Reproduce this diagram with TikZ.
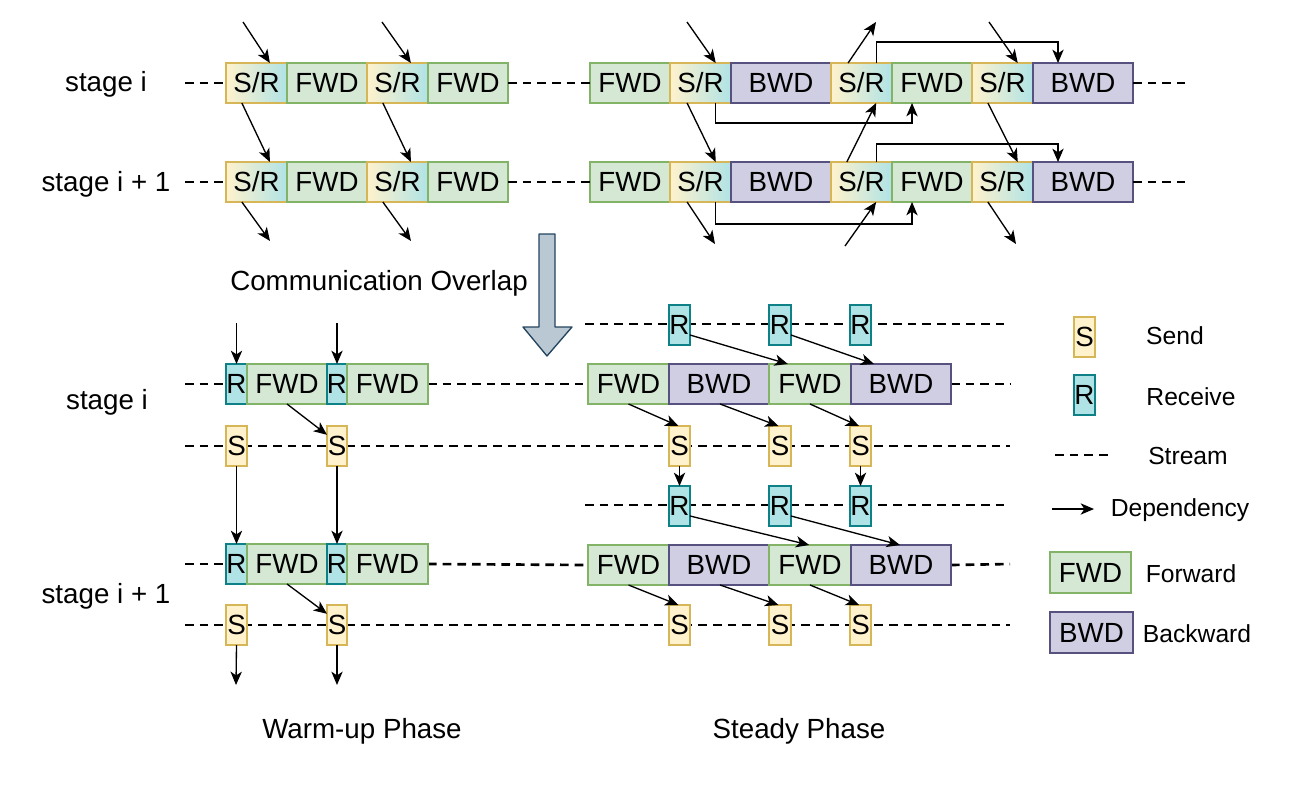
\documentclass[tikz,border=0pt]{standalone}
\usepackage{fontspec}
\setmainfont{Liberation Sans}
\usetikzlibrary{arrows.meta,calc,backgrounds}
\definecolor{fwdF}{HTML}{D5E8D4}\definecolor{fwdD}{HTML}{82B366}
\definecolor{bwdF}{HTML}{D0CEE2}\definecolor{bwdD}{HTML}{56517E}
\definecolor{sF}{HTML}{FFF2CC}\definecolor{sD}{HTML}{D6B656}
\definecolor{rF}{HTML}{B0E3E6}\definecolor{rD}{HTML}{0E8088}
\definecolor{arF}{HTML}{BAC8D3}\definecolor{arD}{HTML}{23445D}
\newcommand\blk[7]{\node[#1, minimum width={(#4-#3)*0.75pt}, minimum height={(#6-#5)*0.75pt}] (#2) at ({(#3+#4)/2},{(#5+#6)/2}) {#7};}
\newcommand\Top[2]{($(#1.north west)!#2!(#1.north east)$)}
\newcommand\Bot[2]{($(#1.south west)!#2!(#1.south east)$)}
\newcommand\Rgt[2]{($(#1.north east)!#2!(#1.south east)$)}
\newcommand\Lft[2]{($(#1.north west)!#2!(#1.south west)$)}
\tikzset{
  box/.style={draw, line width=1pt, inner sep=0pt, outer sep=0pt},
  fwd/.style={box, fill=fwdF, draw=fwdD},
  bwd/.style={box, fill=bwdF, draw=bwdD},
  snd/.style={box, fill=sF, draw=sD},
  rcv/.style={box, fill=rF, draw=rD},
  sr/.style={box, draw=sD, left color=sF, right color=rF},
  dep/.style={-{Stealth[length=10pt,width=8.5pt,inset=2.8pt]}, line width=1pt},
  stream/.style={line width=2pt, dash pattern=on 6.5pt off 4.5pt},
  lbl/.style={inner sep=0pt},
  leg/.style={inner sep=0pt, font=\fontsize{18.5}{22}\selectfont},
}
\begin{document}
\begin{tikzpicture}[x=0.75pt,y=-0.75pt, every node/.append style={font=\fontsize{20.8}{24}\selectfont}]
\useasboundingbox (0,0) rectangle (1290,792);

% ---------------- top part ----------------
\node[lbl] (stA) at (106,84) {stage i};
\node[lbl] (stB) at (106,184) {stage i + 1};
% row i
\blk{sr}{a1}{226}{287}{63}{103}{S/R}
\blk{fwd}{a2}{287}{367}{63}{103}{FWD}
\blk{sr}{a3}{367}{428}{63}{103}{S/R}
\blk{fwd}{a4}{428}{508}{63}{103}{FWD}
\blk{fwd}{a5}{590}{670}{63}{103}{FWD}
\blk{sr}{a6}{670}{731}{63}{103}{S/R}
\blk{bwd}{a7}{731}{831}{63}{103}{BWD}
\blk{sr}{a8}{831}{892}{63}{103}{S/R}
\blk{fwd}{a9}{892}{972}{63}{103}{FWD}
\blk{sr}{a10}{972}{1033}{63}{103}{S/R}
\blk{bwd}{a11}{1033}{1133}{63}{103}{BWD}
% row i+1
\blk{sr}{b1}{226}{287}{162}{202}{S/R}
\blk{fwd}{b2}{287}{367}{162}{202}{FWD}
\blk{sr}{b3}{367}{428}{162}{202}{S/R}
\blk{fwd}{b4}{428}{508}{162}{202}{FWD}
\blk{fwd}{b5}{590}{670}{162}{202}{FWD}
\blk{sr}{b6}{670}{731}{162}{202}{S/R}
\blk{bwd}{b7}{731}{831}{162}{202}{BWD}
\blk{sr}{b8}{831}{892}{162}{202}{S/R}
\blk{fwd}{b9}{892}{972}{162}{202}{FWD}
\blk{sr}{b10}{972}{1033}{162}{202}{S/R}
\blk{bwd}{b11}{1033}{1133}{162}{202}{BWD}

\coordinate (la) at (185,83);  \coordinate (ra) at (1185,83);
\coordinate (lb) at (185,182); \coordinate (rb) at (1185,182);
\draw[stream] (la) -- (a1.west);
\draw[stream] (a4.east) -- (a5.west);
\draw[stream] (a11.east) -- (ra);
\draw[stream] (lb) -- (b1.west);
\draw[stream] (b4.east) -- (b5.west);
\draw[stream] (b11.east) -- (rb);

% top-left dependencies
\coordinate (t1) at (243,22); \coordinate (t3) at (382,22);
\coordinate (u1) at (270,241); \coordinate (u3) at (411,241);
\draw[dep] (t1) -- \Top{a1}{0.72};
\draw[dep] (t3) -- \Top{a3}{0.72};
\draw[dep] \Bot{a1}{0.26} -- \Top{b1}{0.72};
\draw[dep] \Bot{a3}{0.26} -- \Top{b3}{0.72};
\draw[dep] \Bot{b1}{0.26} -- (u1);
\draw[dep] \Bot{b3}{0.26} -- (u3);

% top-right dependencies
\coordinate (t6) at (687,22); \coordinate (u6) at (715,244);
\coordinate (t8) at (876,22); \coordinate (u8) at (845,246);
\coordinate (t10) at (989,22); \coordinate (u10) at (1016,244);
\draw[dep] (t6) -- \Top{a6}{0.75};
\draw[dep] \Bot{a6}{0.28} -- \Top{b6}{0.75};
\draw[dep] \Bot{b6}{0.28} -- (u6);
\draw[dep] \Top{a8}{0.28} -- (t8);
\draw[dep] \Top{a8}{0.75} -- ++(0,-21) -| \Top{a11}{0.25};
\draw[dep] \Bot{a6}{0.75} -- ++(0,20) -| \Bot{a9}{0.25};
\draw[dep] \Top{b8}{0.26} -- \Bot{a8}{0.74};
\draw[dep] \Top{b8}{0.75} -- ++(0,-18) -| \Top{b11}{0.25};
\draw[dep] \Bot{b6}{0.75} -- ++(0,22) -| \Bot{b9}{0.25};
\draw[dep] (u8) -- \Bot{b8}{0.74};
\draw[dep] (t10) -- \Top{a10}{0.75};
\draw[dep] \Bot{a10}{0.26} -- \Top{b10}{0.75};
\draw[dep] \Bot{b10}{0.26} -- (u10);

% big arrow and caption
\draw[fill=arF, draw=arD, line width=1pt, line join=round]
  (539,234) -- (555,234) -- (555,327) -- (572,327) -- (547,356) -- (523,327) -- (539,327) -- cycle;
\node[lbl] (co) at (379,283) {Communication Overlap};

% ---------------- bottom part ----------------
\node[lbl] (stC) at (107,402) {stage i};
\node[lbl] (stD) at (106,596) {stage i + 1};

% warm-up
\blk{rcv}{wr1}{226}{247}{364}{404}{R}
\blk{fwd}{wf1}{247}{327}{364}{404}{FWD}
\blk{rcv}{wr2}{327}{347}{364}{404}{R}
\blk{fwd}{wf2}{347}{428}{364}{404}{FWD}
\blk{snd}{ws1}{226}{247}{426}{466}{S}
\blk{snd}{ws2}{327}{347}{426}{466}{S}
\blk{rcv}{xr1}{226}{247}{544}{584}{R}
\blk{fwd}{xf1}{247}{327}{544}{584}{FWD}
\blk{rcv}{xr2}{327}{347}{544}{584}{R}
\blk{fwd}{xf2}{347}{428}{544}{584}{FWD}
\blk{snd}{xs1}{226}{247}{605}{645}{S}
\blk{snd}{xs2}{327}{347}{605}{645}{S}

% steady
\blk{rcv}{pr1}{669}{690}{305}{345}{R}
\blk{rcv}{pr2}{769}{791}{305}{345}{R}
\blk{rcv}{pr3}{850}{871}{305}{345}{R}
\blk{fwd}{pf1}{588}{669}{364}{404}{FWD}
\blk{bwd}{pb1}{669}{769}{364}{404}{BWD}
\blk{fwd}{pf2}{769}{851}{364}{404}{FWD}
\blk{bwd}{pb2}{851}{951}{364}{404}{BWD}
\blk{snd}{ps1}{669}{690}{426}{466}{S}
\blk{snd}{ps2}{769}{791}{426}{466}{S}
\blk{snd}{ps3}{850}{871}{426}{466}{S}
\blk{rcv}{qr1}{669}{690}{486}{526}{R}
\blk{rcv}{qr2}{769}{791}{486}{526}{R}
\blk{rcv}{qr3}{850}{871}{486}{526}{R}
\blk{fwd}{qf1}{588}{669}{545}{585}{FWD}
\blk{bwd}{qb1}{669}{769}{545}{585}{BWD}
\blk{fwd}{qf2}{769}{851}{545}{585}{FWD}
\blk{bwd}{qb2}{851}{951}{545}{585}{BWD}
\blk{snd}{qs1}{669}{690}{605}{645}{S}
\blk{snd}{qs2}{769}{791}{605}{645}{S}
\blk{snd}{qs3}{850}{871}{605}{645}{S}

% streams (behind the blocks)
\coordinate (lc) at (185,384);  \coordinate (rc) at (1010,384);
\coordinate (ld) at (185,446);  \coordinate (rd) at (1010,446);
\coordinate (le) at (185,564);  \coordinate (re) at (1010,564);
\coordinate (lf) at (185,625);  \coordinate (rf) at (1010,625);
\coordinate (lg) at (585,324);  \coordinate (rg) at (1010,324);
\coordinate (lh) at (585,505);  \coordinate (rh) at (1010,505);
\begin{scope}[on background layer]
\draw[stream] (lc) -- (wr1.west);
\draw[stream] (wf2.east) -- (pf1.west);
\draw[stream] (pb2.east) -- (rc);
\draw[stream] (ld) -- (rd);
\draw[stream] (le) -- (xr1.west);
\draw[stream] (xf2.east) -- (qf1.west);
\draw[stream] (qb2.east) -- (re);
\draw[stream] (lf) -- (rf);
\draw[stream] (lg) -- (rg);
\draw[stream] (lh) -- (rh);
\end{scope}

% warm-up dependencies
\coordinate (w1) at (236.5,323); \coordinate (w2) at (337,323);
\coordinate (w3) at (236,685);   \coordinate (w4) at (337,685);
\draw[dep] (w1) -- (wr1.north);
\draw[dep] (w2) -- (wr2.north);
\draw[dep] \Bot{wf1}{0.5} -- \Lft{ws2}{0.22};
\draw[dep] (ws1.south) -- (xr1.north);
\draw[dep] (ws2.south) -- (xr2.north);
\draw[dep] \Bot{xf1}{0.5} -- \Lft{xs2}{0.22};
\draw[dep] (xs1.south) -- (w3);
\draw[dep] (xs2.south) -- (w4);

% steady dependencies
\draw[dep] \Rgt{pr1}{0.75} -- \Top{pf2}{0.23};
\draw[dep] \Rgt{pr2}{0.75} -- \Top{pb2}{0.23};
\draw[dep] \Bot{pf1}{0.5} -- \Top{ps1}{0.45};
\draw[dep] \Bot{pb1}{0.51} -- \Top{ps2}{0.43};
\draw[dep] \Bot{pf2}{0.5} -- \Top{ps3}{0.43};
\draw[dep] (ps1.south) -- (qr1.north);
\draw[dep] (ps3.south) -- (qr3.north);
\draw[dep] \Rgt{qr1}{0.75} -- \Top{qf2}{0.49};
\draw[dep] \Rgt{qr2}{0.75} -- \Top{qb2}{0.49};
\draw[dep] \Bot{qf1}{0.5} -- \Top{qs1}{0.45};
\draw[dep] \Bot{qb1}{0.51} -- \Top{qs2}{0.43};
\draw[dep] \Bot{qf2}{0.5} -- \Top{qs3}{0.43};

\node[lbl] (ph1) at (362,731) {Warm-up Phase};
\node[lbl] (ph2) at (799,731) {Steady Phase};

% ---------------- legend ----------------
\blk{snd}{gs}{1074}{1095}{317}{357}{S}
\node[leg] (gst) at (1175,336) {Send};
\blk{rcv}{gr}{1074}{1095}{375}{415}{R}
\node[leg] (grt) at (1191,397) {Receive};
\coordinate (gl1) at (1055,455); \coordinate (gl2) at (1112,455);
\draw[stream] (gl1) -- (gl2);
\node[leg] (glt) at (1188,456) {Stream};
\coordinate (gd1) at (1052,509); \coordinate (gd2) at (1094,509);
\draw[dep] (gd1) -- (gd2);
\node[leg] (gdt) at (1180,510) {Dependency};
\blk{fwd}{gf}{1050}{1131}{552}{593}{FWD}
\node[leg] (gft) at (1191,574) {Forward};
\blk{bwd}{gb}{1050}{1133}{612}{653}{BWD}
\node[leg] (gbt) at (1197,634) {Backward};
\end{tikzpicture}
\end{document}
